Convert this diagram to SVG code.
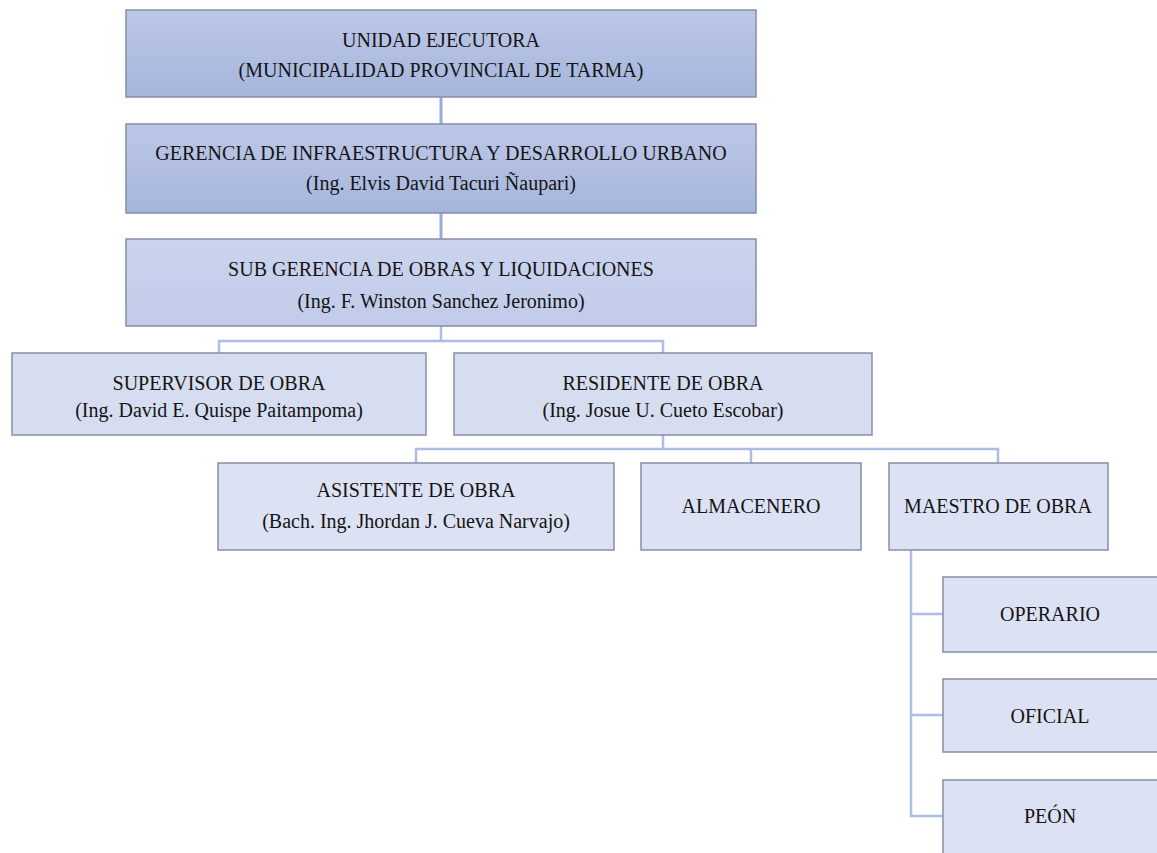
<svg xmlns="http://www.w3.org/2000/svg" width="1157" height="853" viewBox="0 0 1157 853">
<style>
.box{stroke:#858ea3;stroke-width:1.5}
.l1{fill:url(#g1)}
.l2{fill:url(#g2)}
.l3{fill:#d6ddf0}
.l4{fill:#dce2f3}
text{font-family:"Liberation Serif","Times New Roman",serif;font-size:20px;fill:#141414;text-anchor:middle}
.c{fill:none;stroke:#aebde3;stroke-width:2.5}
.ct{fill:none;stroke:#98acd9;stroke-width:3}
</style>
<defs>
<linearGradient id="g1" x1="0" y1="0" x2="0" y2="1">
<stop offset="0" stop-color="#bdc8e8"/>
<stop offset="1" stop-color="#a5b5dc"/>
</linearGradient>
<linearGradient id="g2" x1="0" y1="0" x2="0" y2="1">
<stop offset="0" stop-color="#cbd4ee"/>
<stop offset="1" stop-color="#c1cbe9"/>
</linearGradient>
</defs>
<rect width="1157" height="853" fill="#ffffff"/>
<g id="connectors">
<line class="ct" x1="441" y1="97" x2="441" y2="124"/>
<line class="ct" x1="441" y1="213" x2="441" y2="239"/>
<path class="c" d="M441 326 V341 M219 353 V341 H663 V353"/>
<path class="c" d="M663 435 V449 M416 463 V449 H998 V463 M751 449 V463"/>
<path class="c" d="M911 550 V816 H943 M911 614 H943 M911 715 H943"/>
</g>
<g id="unidad">
<rect class="box l1" x="126" y="10" width="630" height="87"/>
<text x="441" y="47">UNIDAD EJECUTORA</text>
<text x="441" y="77">(MUNICIPALIDAD PROVINCIAL DE TARMA)</text>
</g>
<g id="gerencia">
<rect class="box l1" x="126" y="124" width="630" height="89"/>
<text x="441" y="160">GERENCIA DE INFRAESTRUCTURA Y DESARROLLO URBANO</text>
<text x="441" y="190">(Ing. Elvis David Tacuri Ñaupari)</text>
</g>
<g id="subgerencia">
<rect class="box l2" x="126" y="239" width="630" height="87"/>
<text x="441" y="276">SUB GERENCIA DE OBRAS Y LIQUIDACIONES</text>
<text x="441" y="308">(Ing. F. Winston Sanchez Jeronimo)</text>
</g>
<g id="supervisor">
<rect class="box l3" x="12" y="353" width="414" height="82"/>
<text x="219" y="390">SUPERVISOR DE OBRA</text>
<text x="219" y="417">(Ing. David E. Quispe Paitampoma)</text>
</g>
<g id="residente">
<rect class="box l3" x="454" y="353" width="418" height="82"/>
<text x="663" y="390">RESIDENTE DE OBRA</text>
<text x="663" y="417">(Ing. Josue U. Cueto Escobar)</text>
</g>
<g id="asistente">
<rect class="box l4" x="218" y="463" width="396" height="87"/>
<text x="416" y="497">ASISTENTE DE OBRA</text>
<text x="416" y="528">(Bach. Ing. Jhordan J. Cueva Narvajo)</text>
</g>
<g id="almacenero">
<rect class="box l4" x="641" y="463" width="220" height="87"/>
<text x="751" y="513">ALMACENERO</text>
</g>
<g id="maestro">
<rect class="box l4" x="889" y="463" width="219" height="87"/>
<text x="998" y="513">MAESTRO DE OBRA</text>
</g>
<g id="operario">
<rect class="box l4" x="943" y="577" width="230" height="75"/>
<text x="1050" y="621">OPERARIO</text>
</g>
<g id="oficial">
<rect class="box l4" x="943" y="679" width="230" height="73"/>
<text x="1050" y="723">OFICIAL</text>
</g>
<g id="peon">
<rect class="box l4" x="943" y="780" width="230" height="90"/>
<text x="1050" y="823">PEÓN</text>
</g>
</svg>
